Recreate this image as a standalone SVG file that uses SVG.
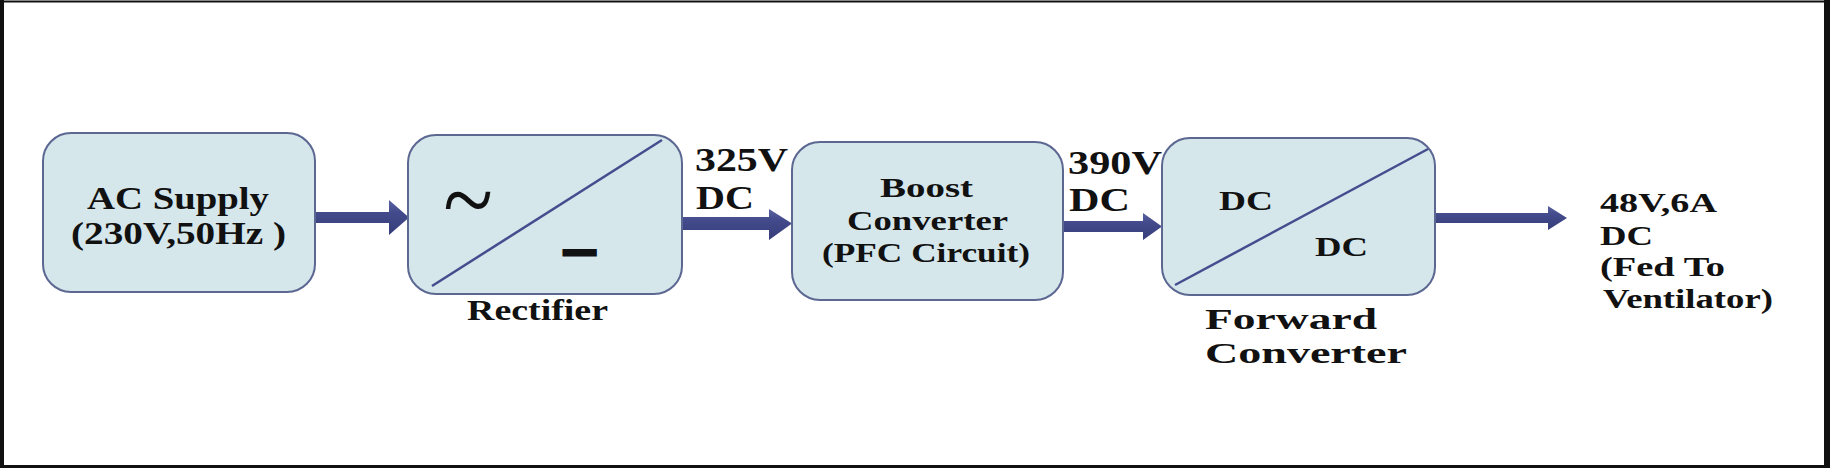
<svg xmlns="http://www.w3.org/2000/svg" width="1830" height="468" viewBox="0 0 1830 468">
<defs>
<linearGradient id="shaft" x1="0" y1="0" x2="0" y2="1">
<stop offset="0" stop-color="#5a62a0"/>
<stop offset="0.35" stop-color="#434b8c"/>
<stop offset="1" stop-color="#363d7a"/>
</linearGradient>
</defs>
<style>
.box{fill:#d5e7eb;stroke:#5c6792;stroke-width:2}
.diag{stroke:#454d8f;stroke-width:2.5;fill:none}
.arr{fill:url(#shaft)}
.t{font-family:"Liberation Serif","Times New Roman",serif;font-weight:bold;fill:#111}
.sym{font-family:"Liberation Serif","Times New Roman",serif;fill:#111}
.bar{font-family:"DejaVu Sans",sans-serif;fill:#111}
.frame{fill:#111}
</style>
<rect width="1830" height="468" fill="#ffffff"/>
<g id="frame">
<rect class="frame" x="0" y="0" width="4" height="468"/>
<rect class="frame" x="0" y="0.5" width="1830" height="2"/>
<rect class="frame" x="1824" y="0" width="6" height="468"/>
<rect class="frame" x="0" y="465" width="1830" height="3"/>
</g>
<g id="connectors">
<polygon class="arr" points="310,212 389,212 389,200 409,217.5 389,235 389,223 310,223"/>
<polygon class="arr" points="682,217 769,217 769,209 792,223.5 769,240 769,230 682,230"/>
<polygon class="arr" points="1063,221 1143,221 1143,213 1162,226.5 1143,240 1143,232 1063,232"/>
<polygon class="arr" points="1435,213 1548,213 1548,206 1567,218 1548,230 1548,223 1435,223"/>
</g>
<g id="ac-supply">
<rect class="box" x="43" y="133" width="272" height="159" rx="28"/>
<text class="t" x="87" y="209" font-size="31" textLength="182" lengthAdjust="spacingAndGlyphs">AC Supply</text>
<text class="t" x="71" y="244" font-size="31" textLength="215" lengthAdjust="spacingAndGlyphs">(230V,50Hz )</text>
</g>
<g id="rectifier">
<rect class="box" x="408" y="135" width="274" height="159" rx="28"/>
<line class="diag" x1="432" y1="286" x2="662" y2="140"/>
<text class="sym" transform="translate(443.3,234) scale(1,1.12)" font-size="92">~</text>
<text class="bar" transform="translate(558.3,258.3) scale(1.25,0.57)" font-size="36">▬</text>
<text class="t" x="467" y="320" font-size="30" textLength="141" lengthAdjust="spacingAndGlyphs">Rectifier</text>
</g>
<g id="label-325">
<text class="t" x="695" y="171" font-size="33" textLength="93" lengthAdjust="spacingAndGlyphs">325V</text>
<text class="t" x="696" y="209" font-size="33" textLength="58" lengthAdjust="spacingAndGlyphs">DC</text>
</g>
<g id="boost">
<rect class="box" x="792" y="142" width="271" height="158" rx="28"/>
<text class="t" x="880" y="197" font-size="27" textLength="93" lengthAdjust="spacingAndGlyphs">Boost</text>
<text class="t" x="847" y="230" font-size="27" textLength="161" lengthAdjust="spacingAndGlyphs">Converter</text>
<text class="t" x="822" y="262" font-size="27" textLength="208" lengthAdjust="spacingAndGlyphs">(PFC Circuit)</text>
</g>
<g id="label-390">
<text class="t" x="1068" y="174" font-size="33" textLength="94" lengthAdjust="spacingAndGlyphs">390V</text>
<text class="t" x="1069" y="211" font-size="33" textLength="61" lengthAdjust="spacingAndGlyphs">DC</text>
</g>
<g id="forward">
<rect class="box" x="1162" y="138" width="273" height="157" rx="28"/>
<line class="diag" x1="1175" y1="285" x2="1428" y2="149"/>
<text class="t" x="1219" y="210" font-size="28" textLength="54" lengthAdjust="spacingAndGlyphs">DC</text>
<text class="t" x="1315" y="256" font-size="28" textLength="53" lengthAdjust="spacingAndGlyphs">DC</text>
<text class="t" x="1205" y="329" font-size="30" textLength="172" lengthAdjust="spacingAndGlyphs">Forward</text>
<text class="t" x="1205" y="363" font-size="30" textLength="202" lengthAdjust="spacingAndGlyphs">Converter</text>
</g>
<g id="output">
<text class="t" x="1600" y="212" font-size="27" textLength="117" lengthAdjust="spacingAndGlyphs">48V,6A</text>
<text class="t" x="1600" y="245" font-size="27" textLength="53" lengthAdjust="spacingAndGlyphs">DC</text>
<text class="t" x="1600" y="276" font-size="27" textLength="125" lengthAdjust="spacingAndGlyphs">(Fed To</text>
<text class="t" x="1603" y="308" font-size="27" textLength="170" lengthAdjust="spacingAndGlyphs">Ventilator)</text>
</g>
</svg>
